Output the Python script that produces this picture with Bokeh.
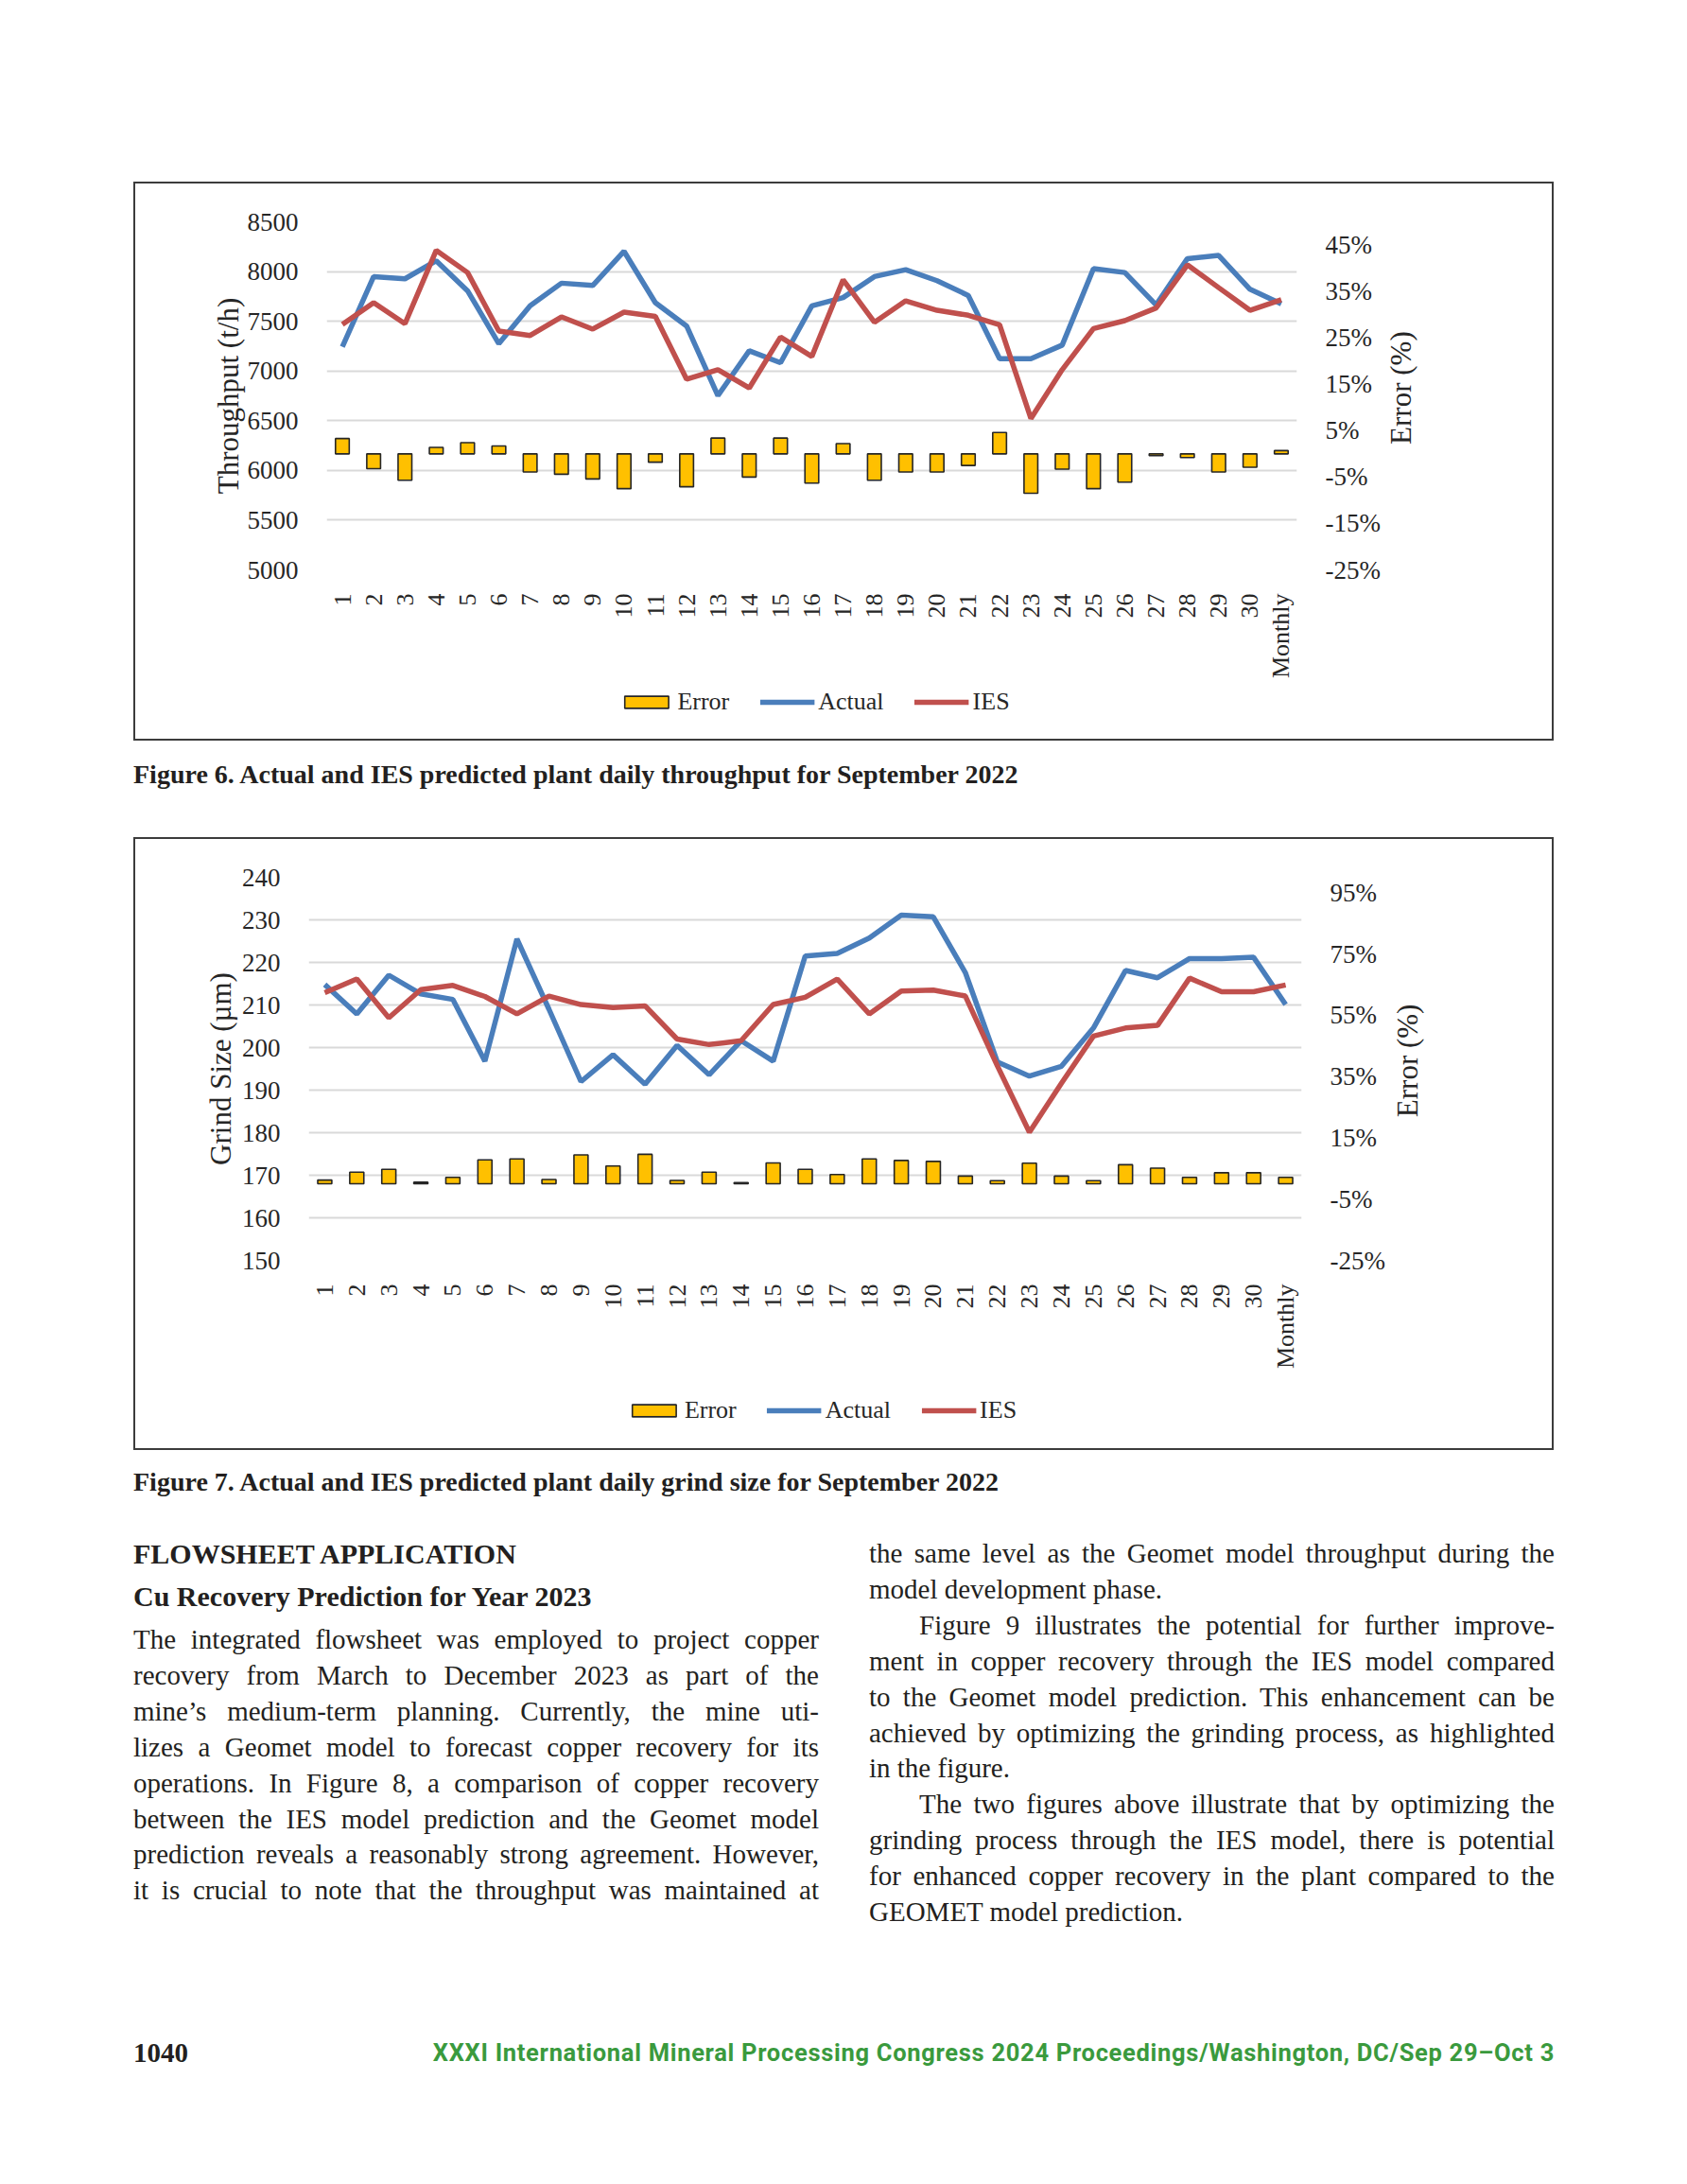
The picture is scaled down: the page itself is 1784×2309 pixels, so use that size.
import math
from bokeh.plotting import figure
from bokeh.models import (FactorRange, Range1d, LinearAxis, FixedTicker, Legend,
                          LegendItem, Div, Spacer, CustomJSTickFormatter)
from bokeh.core.properties import value
from bokeh.layouts import column, row
from bokeh.embed import file_html
from bokeh.resources import INLINE

# ---------------- data ----------------
days = [str(i) for i in range(1, 31)] + ["Monthly"]

# Figure 6 - throughput (t/h) and error (%)
tp_actual = [7243, 7949, 7927, 8108, 7806, 7275, 7655, 7883, 7860, 8203, 7687,
             7452, 6752, 7203, 7083, 7655, 7738, 7949, 8019, 7908, 7759, 7124,
             7124, 7260, 8029, 7990, 7665, 8130, 8162, 7822, 7675]
tp_ies = [7468, 7687, 7475, 8213, 7990, 7402, 7357, 7544, 7421, 7592, 7548,
          6917, 7013, 6829, 7341, 7146, 7917, 7490, 7705, 7610, 7560, 7465,
          6522, 7013, 7427, 7506, 7633, 8067, 7838, 7610, 7717]
tp_error = [3.3, -3.2, -5.7, 1.4, 2.4, 1.7, -3.9, -4.4, -5.4, -7.5, -1.8,
            -7.1, 3.4, -5.0, 3.4, -6.3, 2.2, -5.7, -3.9, -3.9, -2.5, 4.6,
            -8.5, -3.3, -7.5, -6.1, -0.4, -0.8, -3.9, -2.9, 0.7]
tp_left_ticks = [5000, 5500, 6000, 6500, 7000, 7500, 8000, 8500]
tp_right_ticks = [-25, -15, -5, 5, 15, 25, 35, 45]

# Figure 7 - grind size (um) and error (%)
gs_actual = [214.8, 207.9, 217.0, 212.6, 211.3, 196.8, 225.5, 209.0, 192.0,
             198.3, 191.4, 200.5, 193.6, 201.6, 196.8, 221.5, 222.1, 225.7,
             231.1, 230.7, 217.6, 196.6, 193.3, 195.6, 204.6, 218.1, 216.4,
             220.9, 220.9, 221.2, 210.1]
gs_ies = [212.9, 216.1, 207.0, 213.6, 214.6, 212.0, 207.9, 212.1, 210.1,
          209.4, 209.8, 202.0, 200.7, 201.6, 210.1, 211.8, 216.1, 207.9,
          213.3, 213.5, 212.1, 195.7, 180.1, 191.6, 202.7, 204.6, 205.2,
          216.3, 213.1, 213.1, 214.7]
gs_error = [1.2, 3.8, 4.7, 0.5, 2.1, 7.8, 8.1, 1.4, 9.4, 5.8, 9.6, 1.1, 3.8,
            0.4, 6.8, 4.7, 3.0, 8.1, 7.6, 7.3, 2.5, 1.0, 6.7, 2.5, 1.0, 6.2,
            5.1, 2.1, 3.6, 3.6, 2.1]
gs_left_ticks = [150, 160, 170, 180, 190, 200, 210, 220, 230, 240]
gs_right_ticks = [-25, -5, 15, 35, 55, 75, 95]

series_names = ["Error", "Actual", "IES"]
right_title = "Error (%)"

# ---------------- styles ----------------
BLUE = "#4A7EBB"
RED = "#C0504D"
GOLD = "#FFC000"
INK = "#262626"
FONT = "Liberation Serif"
FS = "26px"
FS_Y = "27px"
FS_TITLE = "31px"
BAR_STYLE = dict(fill_color=GOLD, line_color=INK, line_width=1.6)
LINE_W = 5.5


def bare_fig(xr, yr, w, h):
    f = figure(x_range=xr, y_range=yr, width=w, height=h, output_backend="svg",
               toolbar_location=None, x_axis_location=None, y_axis_location=None,
               min_border_left=0, min_border_right=0, min_border_top=0,
               min_border_bottom=0)
    f.grid.visible = False
    f.outline_line_color = None
    f.border_fill_color = "white"
    f.background_fill_color = "white"
    return f


def make_chart(actual, ies, err, left_ticks, right_ticks, e_lo, e_hi, ylabel,
               w, h, mb_l, mb_r, mb_t, mb_b, lab_std_l):
    p = figure(x_range=FactorRange(factors=days),
               y_range=Range1d(left_ticks[0], left_ticks[-1]),
               width=w, height=h, output_backend="svg", toolbar_location=None,
               min_border_left=mb_l, min_border_right=mb_r,
               min_border_top=mb_t, min_border_bottom=mb_b)
    p.outline_line_color = None
    p.background_fill_color = "white"
    p.border_fill_color = "white"
    p.extra_y_ranges = {"err": Range1d(e_lo, e_hi)}

    p.vbar(x=days, top=err, bottom=0, width=0.44, y_range_name="err", **BAR_STYLE)
    p.line(days, actual, line_color=BLUE, line_width=LINE_W)
    p.line(days, ies, line_color=RED, line_width=LINE_W)

    p.xgrid.grid_line_color = None
    p.ygrid.ticker = FixedTicker(ticks=left_ticks)
    p.ygrid.grid_line_color = "#d9d9d9"
    p.ygrid.grid_line_width = 2

    ax = p.yaxis[0]
    ax.ticker = FixedTicker(ticks=left_ticks)
    ax.axis_label = ylabel
    ax.axis_label_standoff = lab_std_l

    rax = LinearAxis(y_range_name="err", ticker=FixedTicker(ticks=right_ticks),
                     formatter=CustomJSTickFormatter(code="return tick + '%';"))
    p.add_layout(rax, "right")

    xa = p.xaxis[0]
    xa.major_label_orientation = math.pi / 2
    xa.major_label_standoff = 19

    for a in (ax, rax, xa):
        a.axis_line_color = None
        a.major_tick_line_color = None
        a.minor_tick_line_color = None
        a.major_label_text_font = FONT
        a.major_label_text_color = INK
        a.axis_label_text_font = FONT
        a.axis_label_text_font_style = "normal"
        a.axis_label_text_color = INK
    for a in (ax, rax):
        a.major_label_standoff = 24
        a.major_label_text_font_size = FS_Y
        a.axis_label_text_font_size = FS_TITLE
    xa.major_label_text_font_size = FS
    return p


def make_right_title(w, h, tx, ty):
    # right-hand axis title, reading bottom to top
    t = bare_fig(Range1d(0, w), Range1d(0, h), w, h)
    t.text(x=[tx], y=[ty], text=[right_title], angle=math.pi / 2,
           text_align="center", text_baseline="middle",
           text_font=value(FONT), text_font_size=value(FS_TITLE),
           text_color=INK)
    return t


def make_legend(actual, ies, err, w, h):
    # legend strip under the chart: the series renderers are hidden, only
    # their legend swatches are shown
    q = bare_fig(FactorRange(factors=days), Range1d(-10, 10), w, h)
    rb = q.vbar(x=days, top=err, bottom=0, width=0.44, **BAR_STYLE)
    ra = q.line(days, actual, line_color=BLUE, line_width=LINE_W)
    ri = q.line(days, ies, line_color=RED, line_width=LINE_W)
    for r in (rb, ra, ri):
        r.visible = False
    legend = Legend(items=[LegendItem(label=series_names[0], renderers=[rb]),
                           LegendItem(label=series_names[1], renderers=[ra]),
                           LegendItem(label=series_names[2], renderers=[ri])],
                    orientation="horizontal", location="center",
                    click_policy="none",
                    border_line_color=None, background_fill_alpha=0,
                    padding=0, margin=0, spacing=32,
                    glyph_width=58, glyph_height=16, label_standoff=4,
                    label_text_font=FONT, label_text_font_size=FS,
                    label_text_color=INK)
    q.add_layout(legend, "center")
    return q


BOX = {"border": "2px solid #3c3c3c"}

p1 = make_chart(tp_actual, tp_ies, tp_error, tp_left_ticks, tp_right_ticks,
                -25, 50, "Throughput (t/h)",
                1319, 526, 202, 91, 40, 118, 0)
t1 = make_right_title(179, 526, 19, 275)
l1 = make_legend(tp_actual, tp_ies, tp_error, 1436, 44)
box1 = column(row(p1, t1), l1, Spacer(width=10, height=17), styles=BOX)

p2 = make_chart(gs_actual, gs_ies, gs_error, gs_left_ticks, gs_right_ticks,
                -25, 100, "Grind Size (µm)",
                1324, 563, 183, 91, 40, 118, 2)
t2 = make_right_title(174, 563, 21, 293.5)
l2 = make_legend(gs_actual, gs_ies, gs_error, 1451, 81)
box2 = column(row(p2, t2), l2, styles=BOX)

TXT = "#231f20"


def abs_div(left, top, html, style=""):
    return (f'<div style="position:absolute;left:{left}px;top:{top}px;'
            f'color:{TXT};{style}">{html}</div>')


cap1 = Div(width=1776, height=102, styles={"margin": "0", "padding": "0"},
           text='<div style="position:relative;width:1776px;height:102px;">'
           + abs_div(141, 20, "Figure 6. Actual and IES predicted plant daily throughput for September 2022",
                     f"font:bold 28px '{FONT}';line-height:32px;white-space:nowrap;")
           + '</div>')

left_lines = [
    ("The integrated flowsheet was employed to project copper", True),
    ("recovery from March to December 2023 as part of the", True),
    ("mine’s medium-term planning. Currently, the mine uti-", True),
    ("lizes a Geomet model to forecast copper recovery for its", True),
    ("operations. In Figure 8, a comparison of copper recovery", True),
    ("between the IES model prediction and the Geomet model", True),
    ("prediction reveals a reasonably strong agreement. However,", True),
    ("it is crucial to note that the throughput was maintained at", True),
]
right_lines = [
    ("the same level as the Geomet model throughput during the", True, False),
    ("model development phase.", False, False),
    ("Figure 9 illustrates the potential for further improve-", True, True),
    ("ment in copper recovery through the IES model compared", True, False),
    ("to the Geomet model prediction. This enhancement can be", True, False),
    ("achieved by optimizing the grinding process, as highlighted", True, False),
    ("in the figure.", False, False),
    ("The two figures above illustrate that by optimizing the", True, True),
    ("grinding process through the IES model, there is potential", True, False),
    ("for enhanced copper recovery in the plant compared to the", True, False),
    ("GEOMET model prediction.", False, False),
]

LH = 37.9
body_style = f"font:29px '{FONT}';line-height:{LH}px;width:725px;"


def line_html(t, just, indent=False):
    al = "justify" if just else "left"
    ind = "text-indent:53px;" if indent else ""
    return f'<div style="text-align:justify;text-align-last:{al};{ind}">{t}</div>'


left_html = "".join(line_html(t, j) for t, j in left_lines)
right_html = "".join(line_html(t, j, i) for t, j, i in right_lines)

page = ('<div style="position:relative;width:1776px;height:768px;">'
        + abs_div(141, 18, "Figure 7. Actual and IES predicted plant daily grind size for September 2022",
                  f"font:bold 28px '{FONT}';line-height:32px;white-space:nowrap;")
        + abs_div(141, 92, "FLOWSHEET APPLICATION",
                  f"font:bold 30px '{FONT}';line-height:36px;white-space:nowrap;")
        + abs_div(141, 137, "Cu Recovery Prediction for Year 2023",
                  f"font:bold 30px '{FONT}';line-height:36px;white-space:nowrap;")
        + abs_div(141, 182, left_html, body_style)
        + abs_div(919, 91, right_html, body_style)
        + abs_div(141, 620, "1040",
                  f"font:bold 29px '{FONT}';line-height:34px;white-space:nowrap;")
        + abs_div(444, 620,
                  "XXXI International Mineral Processing Congress 2024 Proceedings/Washington, DC/Sep 29–Oct 3",
                  "font:bold 25.5px 'Roboto';letter-spacing:0.7px;line-height:34px;white-space:nowrap;color:#3a9a3d;width:1200px;text-align:right;")
        + '</div>')

text_div = Div(width=1776, height=768, styles={"margin": "0", "padding": "0"}, text=page)

layout = column(
    Spacer(height=192, width=10),
    row(Spacer(width=141, height=10), box1),
    cap1,
    row(Spacer(width=141, height=10), box2),
    text_div,
)

open("out.html", "w").write(file_html(layout, INLINE))
